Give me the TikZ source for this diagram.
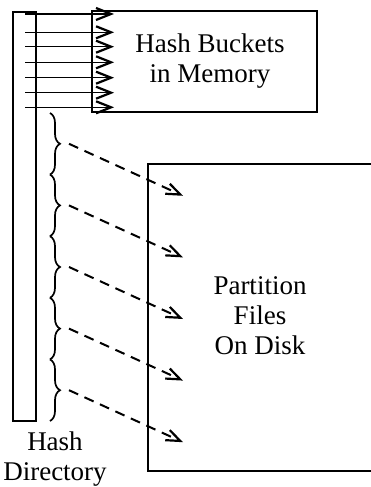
\documentclass[tikz,border=0pt]{standalone}
\usepackage{fontspec}
\setmainfont{Liberation Serif}
\usetikzlibrary{arrows.meta,decorations.pathreplacing}
\begin{document}
\begin{tikzpicture}[x=1pt,y=-1pt,
  box/.style={draw, line width=1.7pt, inner sep=0pt},
  lbl/.style={font=\fontsize{27}{30}\selectfont, align=center, inner sep=0pt},
  hashar/.style={line width=1.4pt, -{Straight Barb[length=15pt,width=12pt,line width=2.2pt]}},
  dasharr/.style={line width=2pt, dash pattern=on 10pt off 7pt, -{Straight Barb[length=14pt,width=11pt,line width=2.2pt]}},
  brc/.style={decorate, decoration={brace, amplitude=10pt}, line width=1.7pt}]
\useasboundingbox (0,0) rectangle (371,487);
% hash directory
\node[box, minimum width=23pt, minimum height=409pt] (dir) at (24.5,216.5) {};
% memory box
\node[box, minimum width=225pt, minimum height=101pt] (mem) at (204.5,61.5) {};
\node[lbl] (memtxt) at (210,61) {Hash Buckets\\in Memory};
% partition box (open on the right)
\draw[line width=1.7pt] (372,164) -- (148,164) -- (148,471) -- (372,471);
\node[lbl] (parttxt) at (260,316) {Partition\\Files\\On Disk};
\node[lbl] (dirtxt) at (55,459) {Hash\\Directory};
% hash arrows to memory
\foreach \i/\y in {1/14,2/32.3,3/46.7,4/62.3,5/77.7,6/92.7,7/107.3}{
  \coordinate (s\i) at (25,\y);
  \coordinate (t\i) at (114,\y);
  \draw[hashar] (s\i) -- (t\i);
}
% braces and dashed arrows to disk
\foreach \i in {0,...,4}{
  \pgfmathsetmacro{\ya}{113+61.6*\i}
  \pgfmathsetmacro{\yb}{113+61.6*(\i+1)}
  \pgfmathsetmacro{\ym}{113+61.6*(\i+0.5)}
  \draw[brc] (50,\ya) -- (50,\yb);
  \coordinate (b\i) at (69,\ym);
  \coordinate (p\i) at (183,\ym+52);
  \draw[dasharr] (b\i) -- (p\i);
}
\end{tikzpicture}
\end{document}
